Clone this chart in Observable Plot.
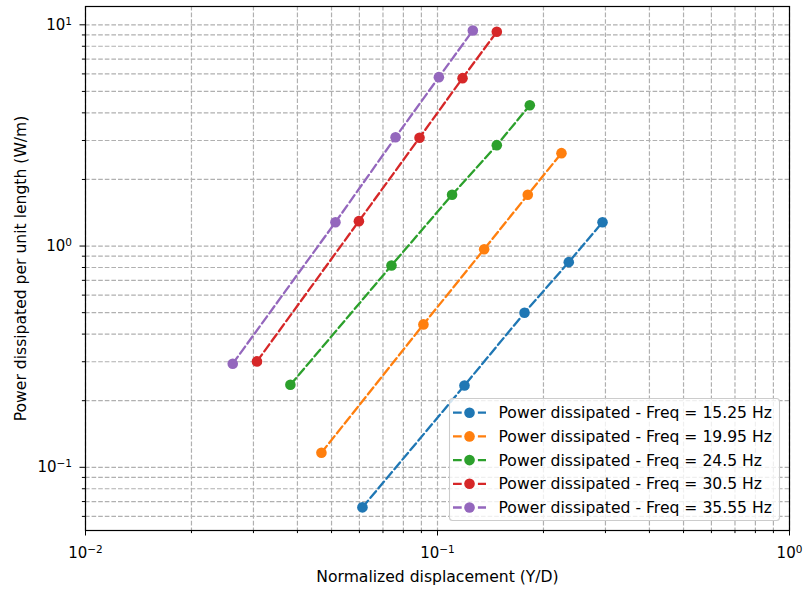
<!DOCTYPE html>
<html><head><meta charset="utf-8">
<script src="https://cdn.jsdelivr.net/npm/d3@7"></script>
<script src="https://cdn.jsdelivr.net/npm/@observablehq/plot@0.6"></script>
<style>body{margin:0;background:#fff;} #chart svg{display:block;}</style>
</head><body><div id="chart"></div>
<script>
// ---- data ----
const seriesLabels = [
  "Power dissipated - Freq = 15.25 Hz",
  "Power dissipated - Freq = 19.95 Hz",
  "Power dissipated - Freq = 24.5 Hz",
  "Power dissipated - Freq = 30.5 Hz",
  "Power dissipated - Freq = 35.55 Hz"
];
const seriesColors = ["#1f77b4", "#ff7f0e", "#2ca02c", "#d62728", "#9467bd"];

const disp_15_25  = [0.0612, 0.1193, 0.1767, 0.236, 0.2943];
const power_15_25 = [0.0659, 0.2344, 0.4995, 0.846, 1.282];
const disp_19_95  = [0.0468, 0.0912, 0.1357, 0.1805, 0.225];
const power_19_95 = [0.1164, 0.4424, 0.968, 1.705, 2.63];
const disp_24_5   = [0.0382, 0.074, 0.110, 0.1474, 0.1829];
const power_24_5  = [0.236, 0.817, 1.705, 2.858, 4.33];
const disp_30_5   = [0.0307, 0.0598, 0.0889, 0.1178, 0.1474];
const power_30_5  = [0.301, 1.296, 3.088, 5.74, 9.30];
const disp_35_55  = [0.0262, 0.0513, 0.076, 0.1009, 0.126];
const power_35_55 = [0.294, 1.282, 3.105, 5.80, 9.42];

const xTicksMajor = [0.01, 0.1, 1];
const yTicksMajor = [0.1, 1, 10];
const xTicksMinor = [0.02,0.03,0.04,0.05,0.06,0.07,0.08,0.09,0.2,0.3,0.4,0.5,0.6,0.7,0.8,0.9];
const yTicksMinor = [0.06,0.07,0.08,0.09,0.2,0.3,0.4,0.5,0.6,0.7,0.8,0.9,2,3,4,5,6,7,8,9];

const xLabel = "Normalized displacement (Y/D)";
const yLabel = "Power dissipated per unit length (W/m)";

// ---- build table ----
const xs = [disp_15_25, disp_19_95, disp_24_5, disp_30_5, disp_35_55];
const ys = [power_15_25, power_19_95, power_24_5, power_30_5, power_35_55];
const series = seriesLabels.map((label, i) => ({
  label, color: seriesColors[i],
  rows: xs[i].map((x, j) => ({x, y: ys[i][j], series: label}))
}));

const supMap = {"-": "⁻", "0": "⁰", "1": "¹", "2": "²"};
const fmtPow = d => "10" + String(Math.round(Math.log10(d))).split("").map(c => supMap[c]).join("");

const gridStyle = {stroke: "#b0b0b0", strokeWidth: 1.2, strokeDasharray: "4.6,2", strokeOpacity: 1};
const dotR = 5.3;

const chart = Plot.plot({
  width: 803, height: 593,
  marginLeft: 85, marginRight: 14, marginTop: 6, marginBottom: 63,
  style: {fontFamily: "'DejaVu Sans', sans-serif", fontSize: "15px", background: "white", color: "black"},
  x: {type: "log", domain: [0.01, 1]},
  y: {type: "log", domain: [0.0518, 12.1]},
  marks: [
    Plot.ruleX([...xTicksMajor, ...xTicksMinor], gridStyle),
    Plot.ruleY([...yTicksMajor, ...yTicksMinor], gridStyle),
    ...series.flatMap(s => [
      Plot.line(s.rows, {x: "x", y: "y", stroke: s.color, strokeWidth: 2.3, strokeDasharray: "8.7,3.75"}),
      Plot.dot(s.rows, {x: "x", y: "y", r: dotR, fill: s.color, stroke: "none"})
    ]),
    Plot.frame({stroke: "black", strokeWidth: 1.2}),
    Plot.axisX(xTicksMajor, {tickSize: 5.5, tickPadding: 11, tickFormat: fmtPow, label: null, fontSize: 15}),
    Plot.axisX(xTicksMinor, {tickSize: 3.1, tickFormat: () => "", label: null}),
    Plot.axisY(yTicksMajor, {tickSize: 5.5, tickPadding: 8, tickFormat: fmtPow, label: null, fontSize: 15}),
    Plot.axisY(yTicksMinor, {tickSize: 3.1, tickFormat: () => "", label: null}),
    Plot.text([xLabel], {frameAnchor: "bottom", dy: 46, lineAnchor: "middle", textAnchor: "middle", fontSize: 15.6}),
    Plot.text([yLabel], {frameAnchor: "left", dx: -65, rotate: -90, lineAnchor: "middle", textAnchor: "middle", fontSize: 15.6})
  ]
});
document.getElementById("chart").appendChild(chart);

// superscript styling of tick labels (matplotlib mathtext look)
const unsup = {"⁻": "−", "⁰": "0", "¹": "1", "²": "2"};
d3.select(chart).selectAll("text").each(function() {
  const t = this.textContent;
  if (/^10[⁻⁰¹²]+$/.test(t)) {
    const exp = t.slice(2).split("").map(c => unsup[c]).join("");
    const sel = d3.select(this);
    sel.text(null);
    sel.append("tspan").text("10");
    sel.append("tspan").attr("font-size", "10.5px").attr("dy", "-4.8").text(exp);
  }
});

// legend (matplotlib style, lower right inside axes)
const svg = d3.select(chart);
const lg = svg.append("g").attr("font-family", "'DejaVu Sans', sans-serif").attr("font-size", "15.6px")
  .attr("text-anchor", "start");
lg.append("rect").attr("x", 449.5).attr("y", 398.5).attr("width", 330).attr("height", 122)
  .attr("rx", 3).attr("fill", "white").attr("fill-opacity", 0.8).attr("stroke", "#cccccc").attr("stroke-width", 1.1);
series.forEach((s, i) => {
  const cy = 412.7 + i * 23.7;
  lg.append("line").attr("x1", 453).attr("x2", 486).attr("y1", cy).attr("y2", cy)
    .attr("stroke", s.color).attr("stroke-width", 2.3).attr("stroke-dasharray", "8.7,3.75");
  lg.append("circle").attr("cx", 469.5).attr("cy", cy).attr("r", dotR).attr("fill", s.color);
  lg.append("text").attr("x", 498.5).attr("y", cy).attr("dy", "0.36em").attr("fill", "black")
    .attr("text-anchor", "start").text(s.label);
});
</script>
</body></html>
